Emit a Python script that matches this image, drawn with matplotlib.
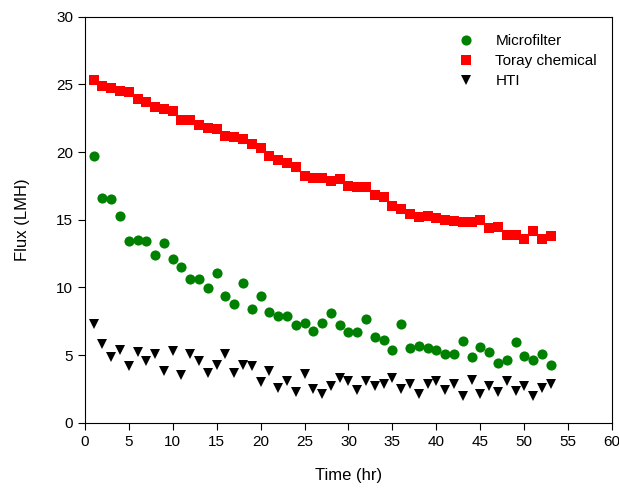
import matplotlib
matplotlib.use("Agg")
import matplotlib.pyplot as plt
import numpy as np

plt.rcParams['font.family'] = ['Liberation Sans', 'DejaVu Sans']

time_hr = list(range(1, 54))

microfilter = [19.7, 16.6, 16.5, 15.3, 13.4, 13.5, 13.4, 12.4, 13.3, 12.1,
               11.5, 10.6, 10.6, 9.95, 11.05, 9.35, 8.75, 10.3, 8.4, 9.4,
               8.2, 7.9, 7.9, 7.2, 7.4, 6.8, 7.4, 8.1, 7.2, 6.7,
               6.7, 7.65, 6.35, 6.15, 5.4, 7.3, 5.5, 5.65, 5.5, 5.4,
               5.05, 5.1, 6.05, 4.9, 5.6, 5.2, 4.45, 4.65, 5.95, 4.95,
               4.65, 5.1, 4.3]

toray = [25.3, 24.9, 24.7, 24.5, 24.4, 23.9, 23.7, 23.3, 23.2, 23.0,
         22.4, 22.4, 22.0, 21.8, 21.7, 21.2, 21.1, 21.0, 20.6, 20.3,
         19.7, 19.4, 19.2, 18.9, 18.25, 18.05, 18.05, 17.85, 18.0, 17.5,
         17.4, 17.4, 16.85, 16.7, 16.0, 15.8, 15.4, 15.2, 15.25, 15.1,
         14.95, 14.9, 14.85, 14.85, 15.0, 14.4, 14.5, 13.9, 13.85, 13.6,
         14.15, 13.6, 13.8]

hti = [7.33, 5.8, 4.9, 5.4, 4.2, 5.2, 4.55, 5.05, 3.8, 5.3,
       3.5, 5.1, 4.6, 3.7, 4.3, 5.1, 3.7, 4.25, 4.2, 3.05,
       3.8, 2.6, 3.1, 2.3, 3.6, 2.5, 2.15, 2.7, 3.35, 3.1,
       2.45, 3.1, 2.7, 2.9, 3.35, 2.5, 2.9, 2.15, 2.88, 3.06,
       2.45, 2.9, 2.0, 3.2, 2.15, 2.7, 2.25, 3.06, 2.37, 2.7,
       2.0, 2.57, 2.86]

x_ticks = list(range(0, 61, 5))
y_ticks = list(range(0, 31, 5))

fig = plt.figure(figsize=(6.19, 4.90), dpi=100)
ax = fig.add_axes([0.137, 0.137, 0.852, 0.829])

ax.plot(time_hr, microfilter, linestyle='none', marker='o', color='#008000',
        markersize=7.3, markeredgewidth=0, label='Microfilter')
ax.plot(time_hr, toray, linestyle='none', marker='s', color='#ff0000',
        markersize=6.6, markeredgewidth=0, label='Toray chemical')
ax.plot(time_hr, hti, linestyle='none', marker='v', color='black',
        markersize=7.5, markeredgewidth=0, label='HTI')

ax.set_xlim(0, 60)
ax.set_ylim(0, 30)
ax.set_xticks(x_ticks)
ax.set_yticks(y_ticks)
ax.tick_params(direction='out', length=5, width=0.8, labelsize=11,
               top=False, right=False, colors='black')
for s in ax.spines.values():
    s.set_linewidth(0.8)

ax.set_xlabel('Time (hr)', fontsize=12, labelpad=14)
ax.set_ylabel('Flux (LMH)', fontsize=12, labelpad=19)

ax.legend(loc='upper right', frameon=False, fontsize=11,
          handletextpad=0.9, labelspacing=0.4, borderaxespad=0.6,
          bbox_to_anchor=(1.0, 0.995))

fig.savefig('out.png', dpi=100)
